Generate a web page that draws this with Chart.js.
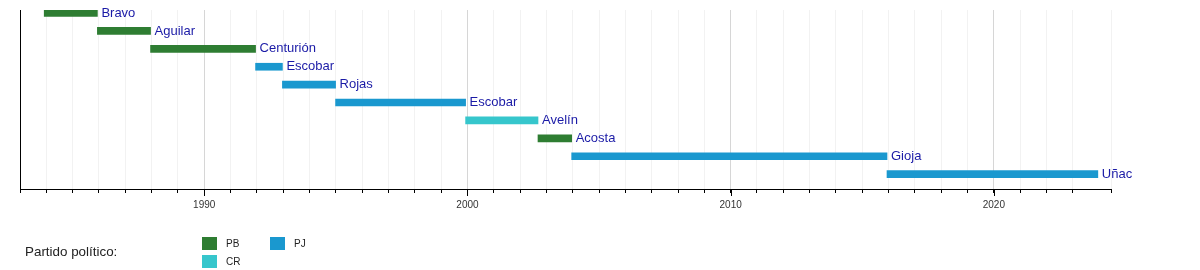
<!DOCTYPE html>
<html>
<head>
<meta charset="utf-8">
<script src="https://cdn.jsdelivr.net/npm/chart.js@4"></script>
<style>
  body { margin: 0; background: #fff; font-family: "Liberation Sans", Arial, sans-serif; }
  #wrap { position: relative; width: 1200px; height: 270px; }
  #legend { position: absolute; left: 0; top: 230px; width: 600px; height: 40px; }
  #legend .title { position: absolute; left: 25px; top: 14px; font-size: 13.4px; color: #222; }
  #legend .items { position: absolute; left: 202px; top: 4px; display: grid;
    grid-template-rows: 18px 18px; grid-auto-flow: column; grid-auto-columns: 68px; }
  #legend .item { display: flex; align-items: center; font-size: 10px; color: #222; }
  #legend .box { width: 15px; height: 13px; margin-right: 9px; }
</style>
</head>
<body>
<div id="wrap">
  <canvas id="timelineChart" width="1200" height="270"></canvas>
  <div id="legend"><div class="title">Partido político:</div><div class="items"></div></div>
</div>
<script>
// Gobernadores, in order from top to bottom
const names = ['Bravo', 'Aguilar', 'Centurión', 'Escobar', 'Rojas', 'Escobar', 'Avelín', 'Acosta', 'Gioja', 'Uñac'];
const starts = [1983.92, 1985.94, 1987.96, 1991.95, 1992.97, 1994.99, 1999.93, 2002.68, 2003.96, 2015.94];
const ends = [1985.94, 1987.96, 1991.95, 1992.97, 1994.99, 1999.93, 2002.68, 2003.96, 2015.94, 2023.95];
const parties = ['PB', 'PB', 'PB', 'PJ', 'PJ', 'PJ', 'CR', 'PB', 'PJ', 'PJ'];

const partyNames = ['PB', 'CR', 'PJ'];
const partyColors = ['#2e7d32', '#36c6cc', '#1a98cf'];

const colorOf = p => partyColors[partyNames.indexOf(p)];

// legend
const items = document.querySelector('#legend .items');
partyNames.forEach((p, i) => {
    const el = document.createElement('div');
    el.className = 'item';
    el.innerHTML = '<span class="box" style="background:' + partyColors[i] + '"></span>' + p;
    items.appendChild(el);
});

// names next to the bar ends, longer ticks for the decades
const timelinePlugin = {
    id: 'timelineExtras',
    afterDatasetsDraw(chart) {
        const ctx = chart.ctx;
        const meta = chart.getDatasetMeta(0);
        ctx.save();
        ctx.font = '13px "Liberation Sans", Arial, sans-serif';
        ctx.fillStyle = '#1a1aa6';
        ctx.textBaseline = 'middle';
        meta.data.forEach((bar, i) => {
            ctx.fillText(names[i], Math.max(bar.x, bar.base) + 4, bar.y);
        });
        ctx.restore();
    },
    afterDraw(chart) {
        const x = chart.scales.x;
        const ctx = chart.ctx;
        ctx.save();
        ctx.strokeStyle = '#000';
        ctx.lineWidth = 1;
        x.ticks.forEach(t => {
            if (t.value % 10 === 0) {
                const px = Math.round(x.getPixelForValue(t.value)) + 0.5;
                ctx.beginPath();
                ctx.moveTo(px, x.top);
                ctx.lineTo(px, x.top + 7);
                ctx.stroke();
            }
        });
        ctx.restore();
    }
};

const ctx = document.getElementById('timelineChart');
new Chart(ctx, {
    type: 'bar',
    data: {
        datasets: [{
            data: names.map((n, i) => ({ x: [starts[i], ends[i]], y: i })),
            backgroundColor: parties.map(colorOf),
            barThickness: 7,
            borderWidth: 0
        }]
    },
    options: {
        indexAxis: 'y',
        responsive: false,
        animation: false,
        layout: { padding: { left: 20, right: 89, top: 10, bottom: 53 } },
        plugins: {
            legend: { display: false },
            tooltip: { enabled: false }
        },
        scales: {
            x: {
                type: 'linear',
                min: 1983,
                max: 2024.45,
                ticks: {
                    stepSize: 1,
                    autoSkip: false,
                    maxRotation: 0,
                    padding: 6,
                    color: '#333',
                    font: { size: 10, family: '"Liberation Sans", Arial, sans-serif' },
                    callback: v => (v % 10 === 0 ? String(v) : '')
                },
                grid: {
                    color: c => (c.tick && c.tick.value % 10 === 0 ? '#d6d6d6' : '#f2f2f2'),
                    tickColor: '#000',
                    tickLength: 4
                },
                border: { color: '#000', width: 1 }
            },
            y: {
                type: 'linear',
                reverse: true,
                offset: false,
                min: -0.17,
                max: 9.83,
                ticks: { display: false },
                grid: { display: false, drawTicks: false, offset: false },
                border: { color: '#000', width: 1 }
            }
        }
    },
    plugins: [timelinePlugin]
});
</script>
</body>
</html>
